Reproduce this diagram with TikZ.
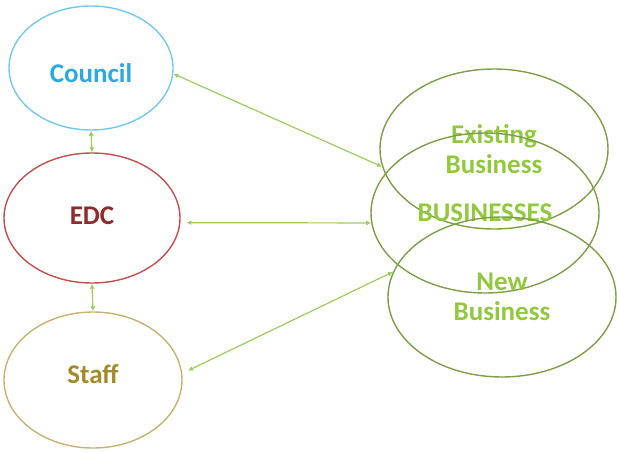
\documentclass[tikz,border=0pt]{standalone}
\usepackage{fontspec}
\setmainfont{Carlito}
\usetikzlibrary{shapes.geometric,arrows.meta}
\definecolor{cblue}{HTML}{2AAAE1}
\definecolor{cblueline}{HTML}{74C8EC}
\definecolor{cred}{HTML}{8E2B2B}
\definecolor{credline}{HTML}{C0504D}
\definecolor{cgold}{HTML}{A38A2A}
\definecolor{cgoldline}{HTML}{C8B272}
\definecolor{cgreen}{HTML}{92C83E}
\definecolor{cgreenline}{HTML}{7E9E48}
\definecolor{carrow}{HTML}{9DCB5E}
\tikzset{
  bubble/.style={ellipse, draw, line width=1.4pt, inner sep=0pt, align=center,
    font=\fontsize{27}{30}\selectfont\bfseries},
  biz/.style={bubble, draw=cgreenline, text=cgreen, minimum width=228pt, minimum height=160pt},
  link/.style={draw=carrow, line width=1.2pt, {Latex[length=5pt,width=5pt]}-{Latex[length=5pt,width=5pt]}}
}
\begin{document}
\begin{tikzpicture}[x=1pt,y=-1pt]
\useasboundingbox (0,0) rectangle (617,452);
\node[bubble, draw=cblueline, text=cblue, minimum width=164pt, minimum height=124pt] (council) at (91,68) {\raisebox{-5pt}[\height][\depth]{Council}};
\node[bubble, draw=credline, text=cred, minimum width=176pt, minimum height=130pt] (edc) at (92,218) {\raisebox{2pt}[\height][\depth]{EDC}};
\node[bubble, draw=cgoldline, text=cgold, minimum width=178pt, minimum height=136pt] (staff) at (93,380) {\raisebox{6pt}[\height][\depth]{Staff}};
\node[biz] (existing) at (494,149) {Existing\\Business};
\node[biz] (businesses) at (485,213) {BUSINESSES};
\node[biz] (new) at (502,297) {New\\Business};
\path[link] (council.south) -- (edc.north);
\path[link] (edc.south) -- (staff.north);
\path[link] (council.-4) -- (existing.189);
\path[link] ([xshift=6pt]edc.-3) -- (businesses.185);
\path[link] ([xshift=6pt]staff.6) -- (new.167);
\end{tikzpicture}
\end{document}
